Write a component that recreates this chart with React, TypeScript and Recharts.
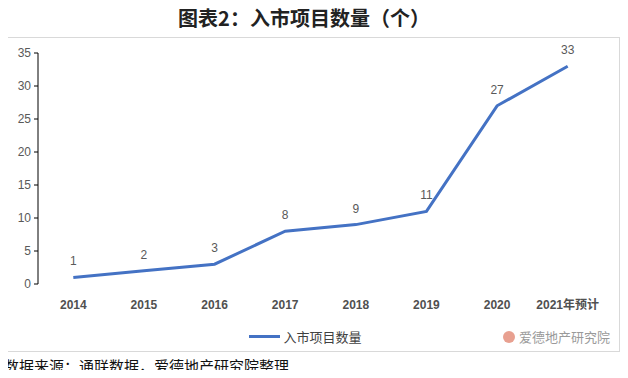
import { LineChart, Line, XAxis, YAxis, LabelList, Legend } from 'recharts';

const years = ['2014', '2015', '2016', '2017', '2018', '2019', '2020', '2021年预计'];
const projectCounts = [1, 2, 3, 8, 9, 11, 27, 33];
const yTicks = [0, 5, 10, 15, 20, 25, 30, 35];
const bandEdges = [0, 1, 2, 3, 4, 5, 6, 7, 8];

const seriesName = '入市项目数量';
const chartData = years.map((year, i) => ({ year, count: projectCounts[i] }));

const FONT = '"Liberation Sans", "Noto Sans CJK SC", sans-serif';
const LINE_COLOR = '#4472C4';

const LegendContent = () => (
  <div style={{ display: 'flex', justifyContent: 'center', alignItems: 'center', height: 20, fontFamily: FONT, fontSize: 13, color: '#404040' }}>
    <span style={{ display: 'inline-block', width: 31, height: 3, background: LINE_COLOR, marginRight: 3 }} />
    <span>{seriesName}</span>
  </div>
);

export default function App() {
  return (
    <div style={{ position: 'relative', width: 628, height: 378, margin: -8, background: '#fff' }}>
      <div style={{ position: 'absolute', top: 4, left: 0, width: 608, textAlign: 'center', fontFamily: '"Noto Sans CJK SC", serif', fontWeight: 700, fontSize: 20, lineHeight: '28px', color: '#222' }}>
        图表2：入市项目数量（个）
      </div>
      <div style={{ position: 'absolute', left: 4, top: 37, width: 614, height: 313, border: '1px solid #d9d9d9' }} />
      <div style={{ position: 'absolute', left: 0, top: 37 }}>
        <LineChart width={628} height={315} data={chartData} margin={{ top: 16, right: 25, bottom: 6, left: 8 }}>
          <XAxis
            xAxisId="edges"
            type="number"
            domain={[0, 8]}
            ticks={bandEdges}
            allowDataOverflow
            height={0}
            tick={false}
            tickSize={5}
            axisLine={{ stroke: '#000' }}
            tickLine={{ stroke: '#000' }}
          />
          <XAxis
            xAxisId="cat"
            dataKey="year"
            scale="band"
            height={42}
            axisLine={false}
            tickLine={false}
            tickMargin={10}
            interval={0}
            tick={{ fill: '#505050', fontSize: 12, fontWeight: 700, fontFamily: FONT }}
          />
          <YAxis
            width={30}
            domain={[0, 35]}
            ticks={yTicks}
            interval={0}
            tickSize={4}
            tickMargin={3}
            axisLine={{ stroke: '#000' }}
            tickLine={{ stroke: '#000' }}
            tick={{ fill: '#595959', fontSize: 12, fontFamily: FONT }}
          />
          <Legend verticalAlign="bottom" height={20} content={<LegendContent />} />
          <Line
            xAxisId="cat"
            type="linear"
            dataKey="count"
            name={seriesName}
            stroke={LINE_COLOR}
            strokeWidth={3}
            dot={false}
            isAnimationActive={false}
          >
            <LabelList dataKey="count" position="top" offset={12} fill="#595959" fontSize={12} fontFamily={FONT} />
          </Line>
        </LineChart>
      </div>
      <div style={{ position: 'absolute', left: 503, top: 327, display: 'flex', alignItems: 'center', fontFamily: FONT, fontSize: 13, color: '#9a9a9a' }}>
        <span style={{ display: 'inline-block', width: 12, height: 12, borderRadius: 6, background: '#e8a090', marginRight: 4 }} />
        爱德地产研究院
      </div>
      <div style={{ position: 'absolute', left: 4, top: 357, fontFamily: '"Noto Sans CJK SC", sans-serif', fontSize: 15, lineHeight: '18px', color: '#111' }}>
        数据来源：通联数据，爱德地产研究院整理
      </div>
    </div>
  );
}
